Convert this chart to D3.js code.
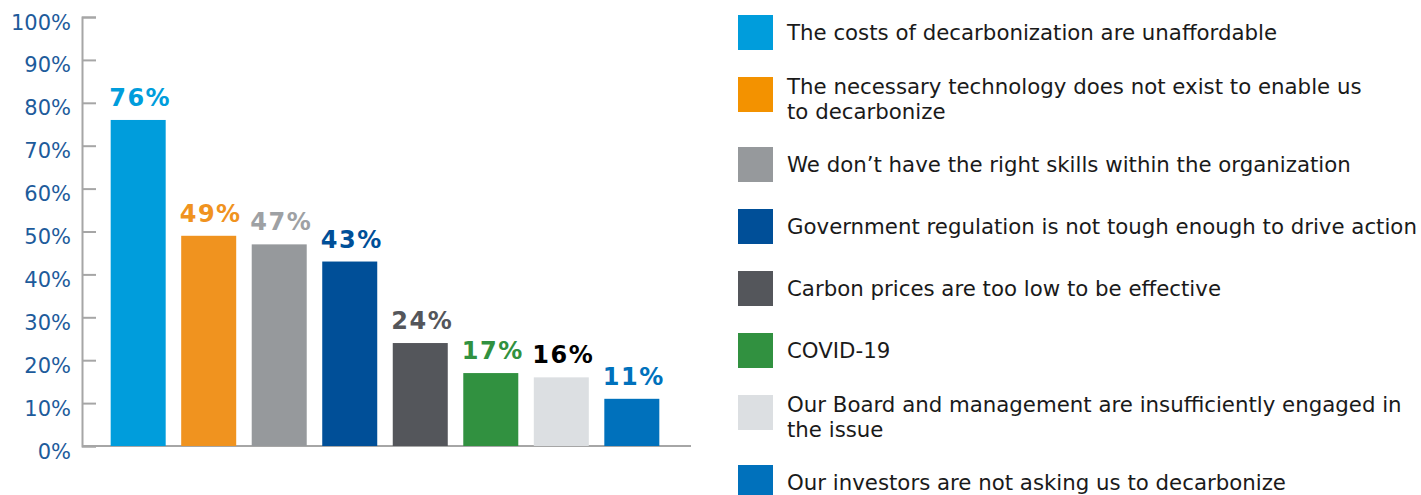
<!DOCTYPE html>
<html>
<head>
<meta charset="utf-8">
<script src="https://cdn.jsdelivr.net/npm/d3@7"></script>
<style>
  body { margin: 0; background: #fff; }
  svg { display: block; font-family: "DejaVu Sans", Verdana, sans-serif; }
</style>
</head>
<body>
<div id="chart"></div>
<script>
// data
const categories = [
    "The costs of decarbonization are unaffordable",
    "The necessary technology does not exist to enable us\nto decarbonize",
    "We don\u2019t have the right skills within the organization",
    "Government regulation is not tough enough to drive action",
    "Carbon prices are too low to be effective",
    "COVID-19",
    "Our Board and management are insufficiently engaged in\nthe issue",
    "Our investors are not asking us to decarbonize"
];
const values = [76, 49, 47, 43, 24, 17, 16, 11];
const barColors = ["#009ddc", "#f0931f", "#96999c", "#004f98", "#54565b", "#319140", "#dcdfe2", "#0071bc"];
const legendColors = ["#009ddc", "#f39200", "#96999c", "#004f98", "#54565b", "#319140", "#dcdfe2", "#0071bc"];
const labelColors = ["#009ddc", "#f0931f", "#9ea1a4", "#004f98", "#54565b", "#319140", "#000000", "#0071bc"];
const yTicks = [0, 10, 20, 30, 40, 50, 60, 70, 80, 90, 100];

const width = 1421, height = 495;
const svg = d3.select("#chart").append("svg")
    .attr("width", width)
    .attr("height", height);

// scales
const x = d3.scaleBand()
    .domain(d3.range(values.length))
    .range([80, 690])
    .paddingInner(0.22)
    .paddingOuter(0.435);

const y = d3.scaleLinear()
    .domain([0, 100])
    .range([446, 17]);

// y axis
const yAxis = d3.axisRight(y)
    .tickValues(yTicks)
    .tickSize(14)
    .tickFormat(d => d + "%");

const gy = svg.append("g")
    .attr("transform", "translate(82,0)")
    .call(yAxis);
gy.select(".domain").attr("stroke", "#a6a6a6").attr("stroke-width", 2);
gy.selectAll(".tick line").attr("stroke", "#a6a6a6").attr("stroke-width", 2);
gy.selectAll(".tick text")
    .attr("x", -11)
    .attr("dy", 12)
    .attr("text-anchor", "end")
    .attr("font-size", 21)
    .attr("fill", "#1d5b9b")
    .attr("font-family", "DejaVu Sans, Verdana, sans-serif");

// baseline
svg.append("line")
    .attr("x1", 82).attr("x2", 691)
    .attr("y1", y(0)).attr("y2", y(0))
    .attr("stroke", "#a6a6a6")
    .attr("stroke-width", 2);

// bars
svg.selectAll(".bar")
    .data(values)
    .join("rect")
    .attr("class", "bar")
    .attr("x", (d, i) => x(i))
    .attr("y", d => y(d))
    .attr("width", x.bandwidth())
    .attr("height", d => y(0) - y(d))
    .attr("fill", (d, i) => barColors[i]);

// value labels
svg.selectAll(".val")
    .data(values)
    .join("text")
    .attr("class", "val")
    .attr("x", (d, i) => x(i) + x.bandwidth() / 2 + 2)
    .attr("y", d => y(d) - 14)
    .attr("text-anchor", "middle")
    .attr("font-size", 24)
    .attr("font-weight", "bold")
    .attr("letter-spacing", 1.5)
    .attr("fill", (d, i) => labelColors[i])
    .text(d => d + "%");

// legend
const legend = svg.append("g").attr("transform", "translate(738,0)");
let doubles = 0;
categories.forEach((c, i) => {
    const lines = c.split("\n");
    const ty = 15 + 62 * i + 8 * doubles;
    if (lines.length > 1) doubles++;
    const g = legend.append("g").attr("transform", `translate(0,${ty})`);
    g.append("rect")
        .attr("width", 35).attr("height", 35)
        .attr("fill", legendColors[i]);
    const t = g.append("text")
        .attr("x", 49)
        .attr("y", lines.length > 1 ? 16.5 : 25)
        .attr("font-size", 21.3)
        .attr("fill", "#1a1a1a");
    lines.forEach((l, j) => {
        t.append("tspan")
            .attr("x", 49)
            .attr("dy", j === 0 ? 0 : 25.5)
            .text(l);
    });
});
</script>
</body>
</html>
